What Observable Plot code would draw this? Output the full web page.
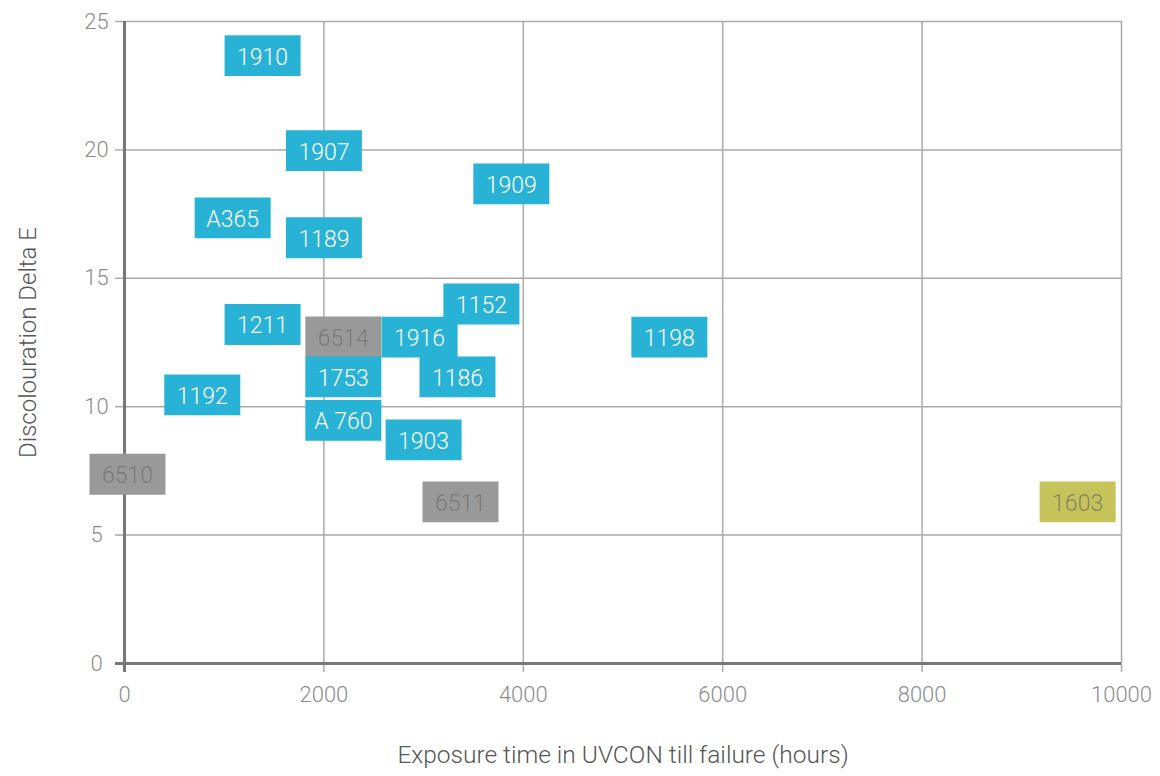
<!DOCTYPE html>
<html>
<head>
<meta charset="utf-8">
<script src="https://cdn.jsdelivr.net/npm/d3@7"></script>
<script src="https://cdn.jsdelivr.net/npm/@observablehq/plot@0.6"></script>
<style>
  html, body { margin: 0; padding: 0; background: #fff; }
  #chart svg { display: block; }
</style>
</head>
<body>
<div id="chart"></div>
<script>
// ---- data ----
const labels = ["1910","1907","1909","A365","1189","1152","1211","6514","1916","1198","1753","1186","1192","A 760","1903","6510","6511","1603"];
const hours  = [1385, 2000, 3880, 1085, 2000, 3580, 1385, 2195, 2960, 5465, 2195, 3340, 780, 2195, 3000, 30, 3370, 9560];
const deltaE = [23.67, 19.97, 18.68, 17.35, 16.58, 14.0, 13.2, 12.72, 12.71, 12.71, 11.16, 11.16, 10.46, 9.47, 8.71, 7.37, 6.29, 6.29];
const groups = ["A","A","A","A","A","A","A","B","A","A","A","A","A","A","A","B","B","C"];
const xTicks = [0, 2000, 4000, 6000, 8000, 10000];
const yTicks = [0, 5, 10, 15, 20, 25];
const xTitle = "Exposure time in UVCON till failure (hours)";
const yTitle = "Discolouration Delta E";

// ---- styling ----
const boxFill  = {A: "#27b2d6", B: "#999999", C: "#c6c35a"};
const textFill = {A: "#ffffff", B: "#7a7a7a", C: "#858566"};

const table = labels.map((label, i) => ({label, x: hours[i], y: deltaE[i], group: groups[i]}));

const boxSymbol = {
  draw(context) {
    context.moveTo(-38, -20.4);
    context.lineTo(38, -20.4);
    context.lineTo(38, 20.4);
    context.lineTo(-38, 20.4);
    context.closePath();
  }
};

const font = "Roboto, 'Open Sans', sans-serif";

const chart = Plot.plot({
  width: 1160,
  height: 776,
  marginLeft: 124,
  marginRight: 39,
  marginTop: 21,
  marginBottom: 113,
  style: {fontFamily: font, fontWeight: 300, background: "#fff"},
  x: {domain: [0, 10000]},
  y: {domain: [0, 25]},
  color: {type: "identity"},
  marks: [
    Plot.gridX(xTicks, {stroke: "#aaaaaa", strokeOpacity: 1, strokeWidth: 1.5}),
    Plot.gridY(yTicks, {stroke: "#aaaaaa", strokeOpacity: 1, strokeWidth: 1.5}),
    Plot.axisX(xTicks, {tickSize: 9, tickPadding: 14, stroke: "#aaaaaa", strokeWidth: 1.5, fill: "#8c8c8c", fontSize: 22, fontWeight: 300, label: null, tickFormat: d => String(d)}),
    Plot.axisY(yTicks, {tickSize: 9, tickPadding: 19, textAnchor: "middle", stroke: "#aaaaaa", strokeWidth: 1.5, fill: "#8c8c8c", fontSize: 22, fontWeight: 300, label: null, tickFormat: d => String(d)}),
    Plot.ruleX([0], {stroke: "#777777", strokeWidth: 3, insetBottom: -9}),
    Plot.ruleY([0], {stroke: "#777777", strokeWidth: 3, insetLeft: -9}),
    Plot.dot(table, {x: "x", y: "y", symbol: boxSymbol, r: 5, fill: d => boxFill[d.group], stroke: null}),
    Plot.text(table, {x: "x", y: "y", dy: 1.5, text: "label", fill: d => textFill[d.group], fontSize: 23, fontWeight: 300}),
    Plot.text([xTitle], {frameAnchor: "bottom", textAnchor: "middle", dy: 99, fill: "#555555", fontSize: 24.5, fontWeight: 300}),
    Plot.text([yTitle], {frameAnchor: "left", textAnchor: "middle", dx: -96, rotate: -90, fill: "#555555", fontSize: 24, fontWeight: 300})
  ]
});

document.getElementById("chart").appendChild(chart);
</script>
</body>
</html>
